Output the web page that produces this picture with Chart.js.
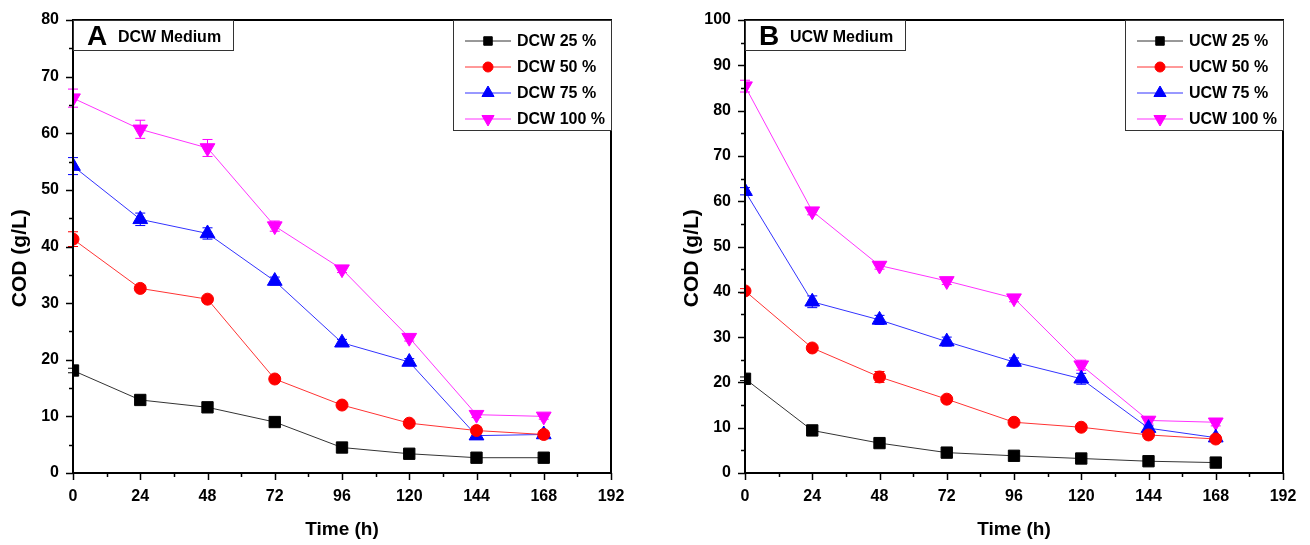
<!DOCTYPE html>
<html>
<head>
<script src="https://cdn.jsdelivr.net/npm/chart.js@4.4.0/dist/chart.umd.min.js"></script>
<style>
  body { margin:0; background:#fff; width:1310px; height:545px; position:relative; overflow:hidden; }
  canvas { position:absolute; top:0; }
</style>
</head>
<body>
<canvas id="chartA" width="640" height="545" style="left:0px"></canvas>
<canvas id="chartB" width="638" height="545" style="left:672px"></canvas>
<script>
// sampling times (h)
var times = [0, 24, 48, 72, 96, 120, 144, 168];

// panel A - DCW medium
var dcw25  = [18.1, 12.9, 11.6, 9.0, 4.5, 3.4, 2.7, 2.7];
var dcw50  = [41.3, 32.6, 30.7, 16.6, 12.0, 8.8, 7.5, 6.8];
var dcw75  = [54.2, 44.8, 42.3, 33.9, 23.0, 19.6, 6.6, 6.8];
var dcw100 = [66.2, 60.7, 57.4, 43.6, 36.0, 23.9, 10.3, 10.0];
var dcw25err  = [0.4, 0.3, 0.3, 0.3, 0.3, 0.2, 0.2, 0.2];
var dcw50err  = [1.3, 0.4, 0.4, 0.4, 0.3, 0.3, 0.3, 0.3];
var dcw75err  = [1.5, 1.1, 1.0, 0.7, 0.6, 0.6, 0.4, 0.4];
var dcw100err = [1.6, 1.6, 1.5, 0.9, 0.6, 0.6, 0.5, 0.5];

// panel B - UCW medium
var ucw25  = [20.8, 9.4, 6.6, 4.5, 3.8, 3.2, 2.6, 2.3];
var ucw50  = [40.2, 27.6, 21.2, 16.3, 11.2, 10.1, 8.4, 7.5];
var ucw75  = [62.2, 37.8, 33.8, 29.0, 24.5, 20.8, 9.9, 7.8];
var ucw100 = [85.4, 57.8, 45.8, 42.4, 38.6, 23.8, 11.6, 11.2];
var ucw25err  = [0.4, 0.3, 0.3, 0.3, 0.2, 0.2, 0.2, 0.2];
var ucw50err  = [0.5, 0.4, 1.2, 0.4, 0.4, 0.3, 0.3, 0.3];
var ucw75err  = [0.8, 1.3, 1.0, 1.0, 0.9, 1.2, 0.5, 0.5];
var ucw100err = [1.3, 0.8, 0.8, 0.8, 0.8, 1.1, 0.8, 0.8];

var xTicks = [0, 24, 48, 72, 96, 120, 144, 168, 192];

var FONT = "'Liberation Sans', Arial, sans-serif";

function series(label, vals, errs, color, lineColor, style, rot, size){
  return {
    label: label,
    data: vals.map(function(v,i){ return {x: times[i], y: v}; }),
    errs: errs,
    borderColor: lineColor,
    backgroundColor: color,
    pointBackgroundColor: color,
    pointBorderColor: color,
    pointStyle: style,
    rotation: rot,
    pointRadius: size,
    borderWidth: 1,
    pointBorderWidth: 1,
    tension: 0
  };
}

// frame, minor ticks, error bars, legend box and panel label
var decor = {
  id: 'decor',
  beforeDatasetsDraw: function(chart){
    var c = chart.ctx, xs = chart.scales.x, ys = chart.scales.y;
    c.save();
    // error bars
    chart.data.datasets.forEach(function(ds){
      c.strokeStyle = ds.backgroundColor;
      c.lineWidth = 1;
      ds.data.forEach(function(p,i){
        var e = ds.errs[i];
        var px = xs.getPixelForValue(p.x);
        var t = ys.getPixelForValue(p.y + e), b = ys.getPixelForValue(p.y - e);
        c.beginPath();
        c.moveTo(px, t); c.lineTo(px, b);
        c.moveTo(px-5, t); c.lineTo(px+5, t);
        c.moveTo(px-5, b); c.lineTo(px+5, b);
        c.stroke();
      });
    });
    c.restore();
  },
  afterDraw: function(chart){
    var c = chart.ctx, a = chart.chartArea, xs = chart.scales.x, ys = chart.scales.y;
    var o = chart.options.plugins.decor;
    c.save();
    c.strokeStyle = '#000';
    c.lineWidth = 2;
    c.strokeRect(a.left, a.top, a.right - a.left, a.bottom - a.top);
    c.lineWidth = 1.5;
    // x ticks
    for (var v = 0; v <= 192; v += 12){
      var px = Math.round(xs.getPixelForValue(v)) + 0.5;
      var len = (v % 24 === 0) ? 7 : 4;
      c.beginPath(); c.moveTo(px, a.bottom); c.lineTo(px, a.bottom + len); c.stroke();
    }
    // y ticks
    for (var w = 0; w <= o.ymax; w += 5){
      var py = Math.round(ys.getPixelForValue(w)) + 0.5;
      var l2 = (w % 10 === 0) ? 7 : 4;
      c.beginPath(); c.moveTo(a.left, py); c.lineTo(a.left - l2, py); c.stroke();
    }
    // panel label box
    c.lineWidth = 1;
    c.strokeStyle = '#333';
    c.fillStyle = '#fff';
    c.fillRect(a.left, a.top, o.labelW, 30);
    c.strokeRect(a.left + 0.5, a.top + 0.5, o.labelW, 30);
    c.fillStyle = '#000';
    c.textBaseline = 'alphabetic';
    c.textAlign = 'left';
    c.font = "bold 28px " + FONT;
    c.fillText(o.letter, a.left + 14, a.top + 25);
    c.font = "bold 16px " + FONT;
    c.fillText(o.medium, a.left + 45, a.top + 22);
    // legend box
    var lw = 158, lh = 110, lx = a.right - lw, ly = a.top;
    c.fillStyle = '#fff';
    c.fillRect(lx, ly, lw, lh);
    c.strokeStyle = '#333';
    c.strokeRect(lx + 0.5, ly + 0.5, lw, lh);
    chart.data.datasets.forEach(function(ds, i){
      var yy = ly + 21 + i * 26;
      c.strokeStyle = ds.borderColor;
      c.lineWidth = 1;
      c.beginPath(); c.moveTo(lx + 12, yy); c.lineTo(lx + 58, yy); c.stroke();
      c.fillStyle = ds.backgroundColor;
      c.strokeStyle = ds.backgroundColor;
      var r = ds.pointStyle === 'triangle' ? 7 : (ds.pointStyle === 'rect' ? 6 : 5);
      Chart.helpers.drawPoint(c, {pointStyle: ds.pointStyle, rotation: ds.rotation, radius: r, borderWidth: 1}, lx + 35, yy);
      c.fillStyle = '#000';
      c.font = "bold 16px " + FONT;
      c.textBaseline = 'middle';
      c.fillText(ds.label, lx + 64, yy + 1);
    });
    c.restore();
  }
};

function makeChart(id, sets, ymax, letter, medium, labelW, rightPad){
  return new Chart(document.getElementById(id), {
    type: 'line',
    data: { datasets: sets },
    options: {
      responsive: false,
      animation: false,
      layout: { padding: { top: 20, right: rightPad, left: 0, bottom: 0 } },
      plugins: {
        legend: { display: false },
        tooltip: { enabled: false },
        decor: { ymax: ymax, letter: letter, medium: medium, labelW: labelW }
      },
      scales: {
        x: {
          type: 'linear', min: 0, max: 192,
          afterBuildTicks: function(s){ s.ticks = xTicks.map(function(v){ return {value: v}; }); },
          grid: { display: false, tickLength: 8 },
          border: { display: false },
          ticks: { color: '#000', font: { family: FONT, size: 16, weight: 'bold' }, padding: 6, maxRotation: 0 },
          title: { display: true, text: 'Time (h)', color: '#000', font: { family: FONT, size: 19, weight: 'bold' }, padding: { top: 14 } },
          afterFit: function(s){ s.height = 72; }
        },
        y: {
          min: 0, max: ymax,
          ticks: { stepSize: 10, color: '#000', font: { family: FONT, size: 16, weight: 'bold' }, padding: 6 },
          grid: { display: false, tickLength: 8 },
          border: { display: false },
          title: { display: true, text: 'COD (g/L)    ', color: '#000', font: { family: FONT, size: 21, weight: 'bold' }, padding: { top: 8, bottom: 0 } },
          afterFit: function(s){ s.width = 73; }
        }
      }
    },
    plugins: [decor]
  });
}

var setsA = [
  series('DCW 25 %',  dcw25,  dcw25err,  '#000000', '#333333', 'rect', 0, 8),
  series('DCW 50 %',  dcw50,  dcw50err,  '#ff0000', '#ff3333', 'circle', 0, 6),
  series('DCW 75 %',  dcw75,  dcw75err,  '#0000ff', '#3333ff', 'triangle', 0, 8.5),
  series('DCW 100 %', dcw100, dcw100err, '#ff00ff', '#ff33ff', 'triangle', 180, 8.5)
];
var setsB = [
  series('UCW 25 %',  ucw25,  ucw25err,  '#000000', '#333333', 'rect', 0, 8),
  series('UCW 50 %',  ucw50,  ucw50err,  '#ff0000', '#ff3333', 'circle', 0, 6),
  series('UCW 75 %',  ucw75,  ucw75err,  '#0000ff', '#3333ff', 'triangle', 0, 8.5),
  series('UCW 100 %', ucw100, ucw100err, '#ff00ff', '#ff33ff', 'triangle', 180, 8.5)
];

makeChart('chartA', setsA, 80, 'A', 'DCW Medium', 160, 29);
makeChart('chartB', setsB, 100, 'B', 'UCW Medium', 160, 27);
</script>
</body>
</html>
